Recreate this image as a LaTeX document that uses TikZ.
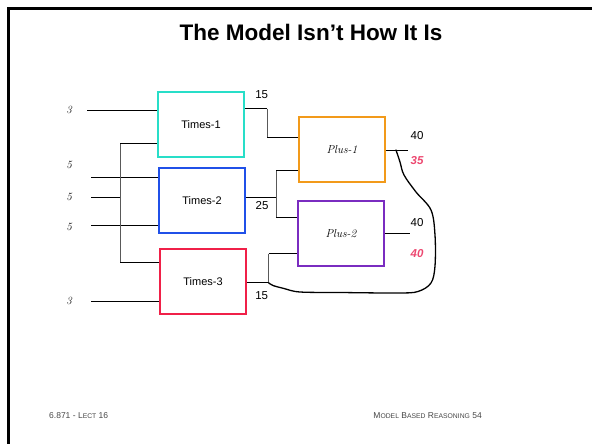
\documentclass[tikz,border=0pt]{standalone}
\usepackage{fontspec}
\setsansfont{Liberation Sans}
\begin{document}
\definecolor{tcyan}{RGB}{40,222,200}
\definecolor{tblue}{RGB}{32,80,232}
\definecolor{tred}{RGB}{240,32,72}
\definecolor{torange}{RGB}{242,154,26}
\definecolor{tpurple}{RGB}{122,44,192}
\definecolor{fault}{RGB}{236,72,112}
\definecolor{footgray}{RGB}{70,70,70}
\begin{tikzpicture}[x=1pt,y=-1pt,
  gate/.style={draw,line width=1.8pt,minimum width=86pt,minimum height=65pt,inner sep=0pt},
  timeslbl/.style={font=\sffamily\fontsize{11}{13}\selectfont},
  pluslbl/.style={font=\itshape\fontsize{11.5}{13}\selectfont},
  inlbl/.style={font=\itshape\fontsize{11}{13}\selectfont},
  val/.style={font=\sffamily\fontsize{11.5}{13}\selectfont},
  bad/.style={font=\sffamily\bfseries\itshape\fontsize{11.5}{13}\selectfont,text=fault},
  wire/.style={line width=0.9pt,black},
  bus/.style={line width=0.9pt,black!65},
  foot/.style={font=\sffamily\fontsize{8.5}{10}\selectfont,text=footgray,inner sep=0pt}]
\useasboundingbox (0,0) rectangle (592,444);

% slide frame
\draw[line width=2.6pt] (8.3,444) -- (8.3,8.3) -- (592,8.3);

% title
\node[font=\sffamily\bfseries\fontsize{22.5}{26}\selectfont] (title) at (311,32) {The Model Isn't How It Is};

% components
\node[gate,draw=tcyan,timeslbl] (t1) at (201,124.5) {Times-1};
\node[gate,draw=tblue,timeslbl] (t2) at (202,200.2) {Times-2};
\node[gate,draw=tred,timeslbl] (t3) at (203,281.7) {Times-3};
\node[gate,draw=torange,pluslbl] (p1) at (342,149.7) {Plus-1};
\node[gate,draw=tpurple,pluslbl] (p2) at (341,233.4) {Plus-2};

% input values
\node[inlbl] (v1) at (69,110) {3};
\node[inlbl] (v2) at (69,165) {5};
\node[inlbl] (v3) at (69,197) {5};
\node[inlbl] (v4) at (69,227) {5};
\node[inlbl] (v5) at (69,301) {3};

% wire end points and junctions
\coordinate (in1) at (87,110);
\coordinate (in2) at (91,177.7);
\coordinate (in3) at (91,197.5);
\coordinate (in4) at (91,225);
\coordinate (in5) at (91,301.7);
\coordinate (bt) at (120,143);
\coordinate (bb) at (120,262);
\coordinate (j1) at (267,108.7);
\coordinate (j1b) at (267,137.3);
\coordinate (j2) at (276,197.3);
\coordinate (j2a) at (276,170.7);
\coordinate (j2b) at (276,217.7);
\coordinate (j3) at (268.5,282.7);
\coordinate (j3a) at (268.5,253.7);
\coordinate (o1) at (408,150);
\coordinate (o2) at (410,233.7);
\coordinate (o1c) at (396,150);

% inputs
\draw[wire] (in1) -- (in1 -| t1.west);
\draw[wire] (in2) -- (in2 -| t2.west);
\draw[wire] (in3) -- (in3 -| bt);
\draw[wire] (in4) -- (in4 -| t2.west);
\draw[wire] (in5) -- (in5 -| t3.west);
\draw[bus] (bt) -- (bb);
\draw[wire] (bt) -- (bt -| t1.west);
\draw[wire] (bb) -- (bb -| t3.west);

% internal connections
\draw[wire] (j1 -| t1.east) -- (j1);
\draw[bus] (j1) -- (j1b);
\draw[wire] (j1b) -- (j1b -| p1.west);
\draw[wire] (j2 -| t2.east) -- (j2);
\draw[bus] (j2a) -- (j2b);
\draw[wire] (j2a) -- (j2a -| p1.west);
\draw[wire] (j2b) -- (j2b -| p2.west);
\draw[wire] (j3 -| t3.east) -- (j3);
\draw[bus] (j3) -- (j3a);
\draw[wire] (j3a) -- (j3a -| p2.west);

% outputs
\draw[wire] (p1.east |- o1) -- (o1);
\draw[wire] (p2.east |- o2) -- (o2);

% hand-drawn link
\draw[line width=1.3pt,line cap=round] plot[smooth,tension=0.55] coordinates
  {(o1c) (400,162) (404,175) (416,192) (431,210) (435,235) (435,266) (431,283) (418,291.5) (398,293) (340,292.5) (300,292) (284,288.5) (273,285.5) (j3)};

% wire values
\node[val] (n15a) at (261.7,95) {15};
\node[val] (n25) at (262,205.7) {25};
\node[val] (n15b) at (261.7,295.5) {15};
\node[val] (n40a) at (417,135.7) {40};
\node[bad] (n35) at (417,161) {35};
\node[val] (n40b) at (417,222.3) {40};
\node[bad] (n40c) at (417,253.7) {40};

% footer
\node[foot,anchor=west] (fl) at (49,415.5) {6.871 - L{\fontsize{6.8}{8}\selectfont ECT} 16};
\node[foot,anchor=east] (fr) at (482,415.5) {M{\fontsize{6.8}{8}\selectfont ODEL} B{\fontsize{6.8}{8}\selectfont ASED} R{\fontsize{6.8}{8}\selectfont EASONING} 54};
\end{tikzpicture}
\end{document}
